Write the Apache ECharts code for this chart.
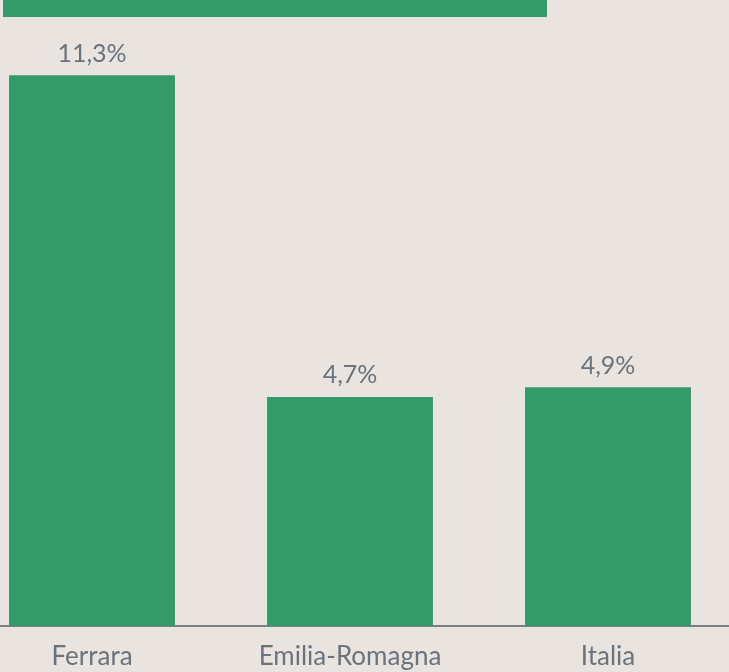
<!DOCTYPE html>
<html>
<head>
<meta charset="utf-8">
<script src="https://cdn.jsdelivr.net/npm/echarts@6/dist/echarts.min.js"></script>
<style>
  html, body { margin: 0; padding: 0; background: #e9e4df; }
  #chart { width: 729px; height: 672px; }
</style>
</head>
<body>
<div id="chart"></div>
<script>
var categories = ['Ferrara', 'Emilia-Romagna', 'Italia'];
var values = [11.3, 4.7, 4.9];

var chart = echarts.init(document.getElementById('chart'));
chart.setOption({
  backgroundColor: '#e9e4df',
  animation: false,
  textStyle: { fontFamily: 'Lato' },
  graphic: [{
    type: 'rect',
    shape: { x: 3, y: 0, width: 544, height: 17 },
    style: { fill: '#349a68' }
  }],
  grid: { left: -37, right: -8, top: 41, bottom: 46, outerBoundsMode: 'none', containLabel: false },
  xAxis: {
    type: 'category',
    data: categories,
    axisLine: { lineStyle: { color: '#7b8086', width: 2 } },
    axisTick: { show: false },
    axisLabel: { color: '#6b737c', fontSize: 26, margin: 18, fontFamily: 'Lato' }
  },
  yAxis: {
    type: 'value',
    min: 0,
    max: 12,
    show: false,
    splitLine: { show: false }
  },
  series: [{
    type: 'bar',
    data: values,
    barWidth: '64.3%',
    itemStyle: { color: '#349a68' },
    label: {
      show: true,
      position: 'top',
      distance: 9,
      color: '#6b737c',
      fontSize: 25,
      fontFamily: 'Lato',
      formatter: function (p) { return String(p.value).replace('.', ',') + '%'; }
    }
  }]
});
</script>
</body>
</html>
